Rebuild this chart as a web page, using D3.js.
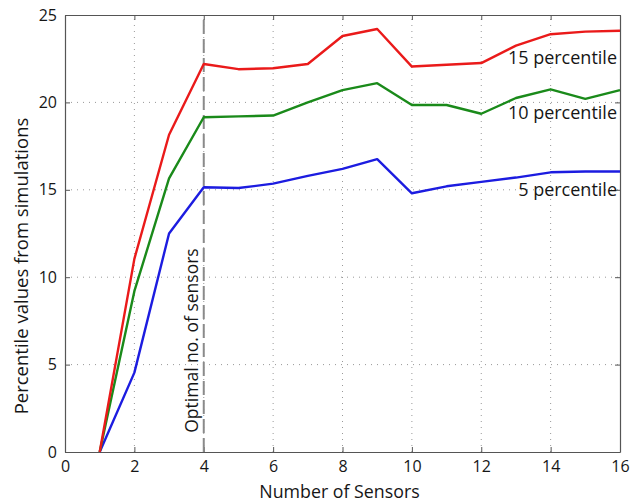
<!DOCTYPE html>
<html>
<head>
<meta charset="utf-8">
<script src="https://cdn.jsdelivr.net/npm/d3@7"></script>
<style>
  html, body { margin: 0; padding: 0; background: #fff; }
  svg { display: block; }
  text { font-family: "Open Sans", "Noto Sans", sans-serif; fill: #161616; }
</style>
</head>
<body>
<svg id="chart" width="632" height="502"></svg>
<script>
// Number of sensors
const sensors = [1, 2, 3, 4, 5, 6, 7, 8, 9, 10, 11, 12, 13, 14, 15, 16];
// Percentile values from the simulations
const p5  = [0, 4.54, 12.5, 15.15, 15.1, 15.35, 15.8, 16.2, 16.75, 14.8, 15.2, 15.45, 15.7, 16.0, 16.05, 16.05];
const p10 = [0, 9.2, 15.65, 19.15, 19.2, 19.25, 20.0, 20.7, 21.1, 19.85, 19.85, 19.35, 20.25, 20.75, 20.2, 20.7];
const p15 = [0, 11.05, 18.15, 22.2, 21.9, 21.95, 22.2, 23.8, 24.2, 22.05, 22.15, 22.25, 23.25, 23.9, 24.05, 24.1];
const xTicks = [0, 2, 4, 6, 8, 10, 12, 14, 16];
const yTicks = [0, 5, 10, 15, 20, 25];
const optimalSensors = 4;

const series = [
  { name: "5 percentile",  values: p5,  color: "#1c1ce0" },
  { name: "10 percentile", values: p10, color: "#1a8a1a" },
  { name: "15 percentile", values: p15, color: "#ea1a1a" }
];

const svg = d3.select("#chart");
const m = { left: 65, right: 12, top: 15, bottom: 50 };
const W = 632, H = 502;
const x = d3.scaleLinear().domain([0, 16]).range([m.left, W - m.right]);
const y = d3.scaleLinear().domain([0, 25]).range([H - m.bottom, m.top]);

const axisColor = "#555";

// dotted grid
const grid = svg.append("g");
grid.selectAll("line.gx").data(xTicks.filter(d => d > 0 && d < 16)).join("line")
  .attr("x1", d => x(d)).attr("x2", d => x(d))
  .attr("y1", y(0)).attr("y2", y(25))
  .attr("stroke", "#999").attr("stroke-width", 1).attr("stroke-dasharray", "1,5");
grid.selectAll("line.gy").data(yTicks.filter(d => d > 0 && d < 25)).join("line")
  .attr("y1", d => y(d)).attr("y2", d => y(d))
  .attr("x1", x(0)).attr("x2", x(16))
  .attr("stroke", "#999").attr("stroke-width", 1).attr("stroke-dasharray", "1,5");

// axes with inward ticks on all four sides
function styleAxis(g) {
  g.select(".domain").attr("stroke", axisColor).attr("stroke-width", 1.2);
  g.selectAll(".tick line").attr("stroke", axisColor);
  g.selectAll(".tick text").style("font-size", "16px").attr("fill", "#161616");
}
svg.append("g").attr("transform", `translate(0,${y(0)})`)
  .call(d3.axisBottom(x).tickValues(xTicks).tickSizeInner(-5).tickSizeOuter(0).tickPadding(9))
  .call(styleAxis);
svg.append("g").attr("transform", `translate(0,${y(25)})`)
  .call(d3.axisTop(x).tickValues(xTicks).tickSizeInner(-5).tickSizeOuter(0).tickFormat(""))
  .call(styleAxis);
svg.append("g").attr("transform", `translate(${x(0)},0)`)
  .call(d3.axisLeft(y).tickValues(yTicks).tickSizeInner(-5).tickSizeOuter(0).tickPadding(8))
  .call(styleAxis);
svg.append("g").attr("transform", `translate(${x(16)},0)`)
  .call(d3.axisRight(y).tickValues(yTicks).tickSizeInner(-5).tickSizeOuter(0).tickFormat(""))
  .call(styleAxis);

// optimal number of sensors marker
svg.append("line")
  .attr("x1", x(optimalSensors)).attr("x2", x(optimalSensors))
  .attr("y1", y(0)).attr("y2", y(25))
  .attr("stroke", "#8a8a8a").attr("stroke-width", 2).attr("stroke-dasharray", "14,5");
svg.append("text")
  .attr("transform", `translate(${x(optimalSensors) - 5.5},${y(1.1)}) rotate(-90)`)
  .style("font-size", "17.5px")
  .text("Optimal no. of sensors");

// percentile curves
const line = d3.line().x((d, i) => x(sensors[i])).y(d => y(d));
svg.append("g").selectAll("path").data(series).join("path")
  .attr("d", d => line(d.values))
  .attr("fill", "none")
  .attr("stroke", d => d.color)
  .attr("stroke-width", 2.4)
  .attr("stroke-linejoin", "round");

// curve labels at the right edge
const labelPos = { "15 percentile": 22.5, "10 percentile": 19.35, "5 percentile": 14.9 };
svg.append("g").selectAll("text").data(series).join("text")
  .attr("x", x(16) - 3)
  .attr("y", d => y(labelPos[d.name]))
  .attr("text-anchor", "end")
  .attr("dominant-baseline", "middle")
  .style("font-size", "18px")
  .text(d => d.name);

// axis titles
svg.append("text")
  .attr("x", (x(0) + x(16)) / 2 - 3).attr("y", H - 4)
  .attr("text-anchor", "middle")
  .style("font-size", "17.8px")
  .text("Number of Sensors");
svg.append("text")
  .attr("transform", `translate(28,266) rotate(-90)`)
  .attr("text-anchor", "middle")
  .style("font-size", "18.5px")
  .text("Percentile values from simulations");
</script>
</body>
</html>
